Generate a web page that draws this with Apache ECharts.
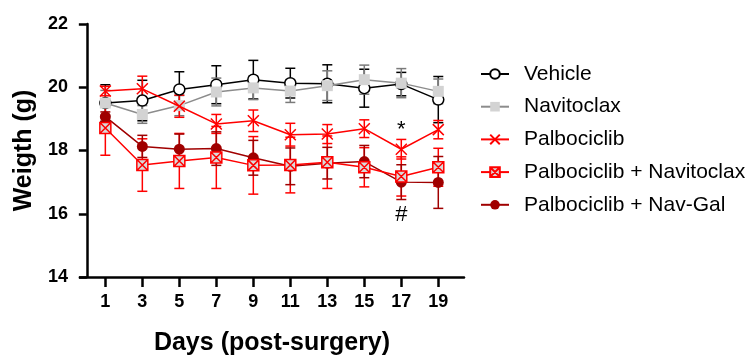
<!DOCTYPE html>
<html>
<head>
<meta charset="utf-8">
<script src="https://cdn.jsdelivr.net/npm/echarts@6/dist/echarts.min.js"></script>
<style>
  html, body { margin: 0; padding: 0; background: #fff; }
  #chart { width: 747px; height: 361px; }
</style>
</head>
<body>
<div id="chart"></div>
<script>
// Body weight (g) by day after surgery, group means with SEM
const days = [1, 3, 5, 7, 9, 11, 13, 15, 17, 19];
const dayTicks = [1, 3, 5, 7, 9, 11, 13, 15, 17, 19];

const vehicleMean = [19.50, 19.58, 19.93, 20.08, 20.24, 20.13, 20.11, 19.97, 20.10, 19.61];
const vehicleSem  = [0.58, 0.64, 0.56, 0.60, 0.61, 0.47, 0.60, 0.60, 0.37, 0.73];

const navitoclaxMean = [19.50, 19.14, 19.42, 19.85, 19.98, 19.88, 20.05, 20.24, 20.13, 19.87];
const navitoclaxSem  = [0.40, 0.28, 0.32, 0.44, 0.37, 0.36, 0.47, 0.46, 0.46, 0.39];

const palboMean = [19.88, 19.95, 19.40, 18.84, 18.94, 18.50, 18.52, 18.69, 18.04, 18.66];
const palboSem  = [0.15, 0.40, 0.35, 0.30, 0.34, 0.36, 0.30, 0.28, 0.31, 0.29];

const palboNavMean = [18.71, 17.54, 17.67, 17.78, 17.53, 17.54, 17.63, 17.47, 17.18, 17.47];
const palboNavSem  = [0.86, 0.83, 0.87, 0.98, 0.91, 0.88, 0.83, 0.62, 0.62, 0.60];

const navGalMean = [19.07, 18.13, 18.04, 18.06, 17.77, 17.50, 17.60, 17.65, 17.00, 16.99];
const navGalSem  = [0.15, 0.35, 0.48, 0.53, 0.55, 0.58, 0.50, 0.51, 0.55, 0.82];

// significance marks shown next to single points
const palboNote  = ['', '', '', '', '', '', '', '', '*', ''];
const navGalNote = ['', '', '', '', '', '', '', '', '#', ''];

const FONT = 'Liberation Sans, Arial, Helvetica, sans-serif';

const SYM_X = 'path://M0,0L10,10M10,0L0,10';
const SYM_BOX_X = 'path://M0,0L10,0L10,10L0,10Z M0,0L10,10 M10,0L0,10';

function errorBars(name, mean, sem, color, z) {
  return {
    type: 'custom',
    name: name,
    silent: true,
    z: z,
    encode: { x: 0, y: [1, 2] },
    data: days.map((d, i) => [d, mean[i] - sem[i], mean[i] + sem[i]]),
    renderItem: function (params, api) {
      const x = api.value(0);
      const lo = api.coord([x, api.value(1)]);
      const hi = api.coord([x, api.value(2)]);
      const hw = 5;
      const st = { stroke: color, lineWidth: 1.5 };
      return {
        type: 'group',
        children: [
          { type: 'line', shape: { x1: lo[0], y1: lo[1], x2: hi[0], y2: hi[1] }, style: st },
          { type: 'line', shape: { x1: lo[0] - hw, y1: lo[1], x2: lo[0] + hw, y2: lo[1] }, style: st },
          { type: 'line', shape: { x1: hi[0] - hw, y1: hi[1], x2: hi[0] + hw, y2: hi[1] }, style: st }
        ]
      };
    }
  };
}

function points(mean, notes, labelOpt) {
  return days.map((d, i) => {
    if (notes && notes[i]) {
      return {
        value: [d, mean[i]],
        label: Object.assign({ show: true, formatter: notes[i], color: '#000', fontFamily: FONT }, labelOpt)
      };
    }
    return [d, mean[i]];
  });
}

const option = {
  backgroundColor: '#fff',
  animation: false,
  grid: { left: 80, top: 24, width: 384, height: 257.7, containLabel: false },
  xAxis: {
    type: 'value',
    min: -0.37,
    max: 20.39,
    name: 'Days (post-surgery)',
    nameLocation: 'middle',
    nameGap: 54,
    nameTextStyle: { fontFamily: FONT, fontWeight: 'bold', fontSize: 25, color: '#000' },
    axisLine: { show: true, lineStyle: { color: '#000', width: 2.5 } },
    axisTick: { show: true, length: 10, lineStyle: { color: '#000', width: 2.5 }, customValues: dayTicks },
    axisLabel: { customValues: dayTicks, margin: 16, fontFamily: FONT, fontWeight: 'bold', fontSize: 18, color: '#000' },
    splitLine: { show: false }
  },
  yAxis: {
    type: 'value',
    min: 14,
    max: 22,
    interval: 2,
    name: 'Weigth (g)',
    nameLocation: 'middle',
    nameGap: 43,
    nameTextStyle: { fontFamily: FONT, fontWeight: 'bold', fontSize: 25, color: '#000' },
    axisLine: { show: true, lineStyle: { color: '#000', width: 2.5 } },
    axisTick: { show: true, length: 8, lineStyle: { color: '#000', width: 2.5 } },
    axisLabel: { margin: 12, fontFamily: FONT, fontWeight: 'bold', fontSize: 18, color: '#000' },
    splitLine: { show: false }
  },
  legend: {
    orient: 'vertical',
    left: 480,
    top: 63.5,
    padding: 0,
    itemWidth: 28,
    itemHeight: 12,
    itemGap: 11.7,
    data: ['Vehicle', 'Navitoclax', 'Palbociclib', 'Palbociclib + Navitoclax', 'Palbociclib + Nav-Gal'],
    textStyle: { fontFamily: FONT, fontSize: 21, color: '#000', lineHeight: 21, padding: [0, 0, 0, 10] }
  },
  series: [
    errorBars('Vehicle SEM', vehicleMean, vehicleSem, '#000', 2),
    errorBars('Navitoclax SEM', navitoclaxMean, navitoclaxSem, '#7a7a7a', 2),
    errorBars('Palbociclib SEM', palboMean, palboSem, '#ff0000', 2),
    errorBars('Palbociclib + Navitoclax SEM', palboNavMean, palboNavSem, '#ff0000', 2),
    errorBars('Palbociclib + Nav-Gal SEM', navGalMean, navGalSem, '#a00000', 2),
    {
      type: 'line', name: 'Palbociclib + Nav-Gal', z: 3,
      data: points(navGalMean, navGalNote, { position: 'bottom', distance: 16, fontSize: 22 }),
      symbol: 'circle', symbolSize: 11,
      itemStyle: { color: '#a00000', borderColor: '#a00000', borderWidth: 0 },
      lineStyle: { color: '#a00000', width: 1.5 }
    },
    {
      type: 'line', name: 'Vehicle', z: 4,
      data: points(vehicleMean),
      symbol: 'circle', symbolSize: 11,
      itemStyle: { color: '#fff', borderColor: '#000', borderWidth: 1.5 },
      lineStyle: { color: '#000', width: 1.5 }
    },
    {
      type: 'line', name: 'Navitoclax', z: 5,
      data: points(navitoclaxMean),
      symbol: 'rect', symbolSize: 11,
      itemStyle: { color: '#d3d3d3', borderWidth: 0 },
      lineStyle: { color: '#8c8c8c', width: 1.5 }
    },
    {
      type: 'line', name: 'Palbociclib', z: 6,
      data: points(palboMean, palboNote, { position: 'top', distance: 2, fontSize: 22 }),
      symbol: SYM_X, symbolSize: 11,
      itemStyle: { color: '#ff0000', borderColor: '#ff0000', borderWidth: 1.5 },
      lineStyle: { color: '#ff0000', width: 1.5 }
    },
    {
      type: 'line', name: 'Palbociclib + Navitoclax', z: 7,
      data: points(palboNavMean),
      symbol: SYM_BOX_X, symbolSize: 11,
      itemStyle: { color: '#d9d9d9', borderColor: '#ff0000', borderWidth: 1.5 },
      lineStyle: { color: '#ff0000', width: 1.5 }
    }
  ]
};

const chart = echarts.init(document.getElementById('chart'), null, { renderer: 'canvas' });
chart.setOption(option);
</script>
</body>
</html>
